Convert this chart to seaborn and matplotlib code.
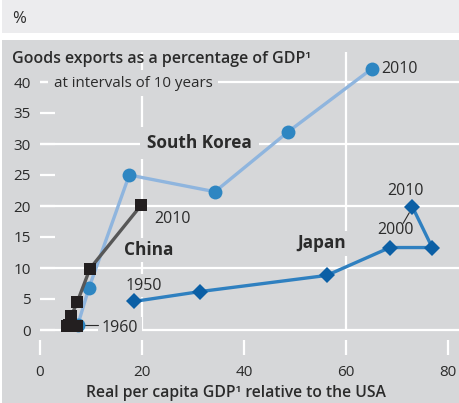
"""Goods exports vs real per capita GDP: South Korea, China, Japan (1950-2010)."""
import matplotlib; matplotlib.use("Agg")
import numpy as np
import pandas as pd
import matplotlib.pyplot as plt
import seaborn as sns
from matplotlib.patches import Rectangle

W, H, DPI = 459, 403, 100
PANEL = "#d6d7d9"
BAND = "#ececee"
TXT = "#2b2b2b"

# x: real per capita GDP relative to the USA (%), y: goods exports (% of GDP)
korea_x = [7.4, 9.6, 17.5, 34.3, 48.7, 65.0]
korea_y = [0.8, 6.8, 25.0, 22.3, 32.0, 42.1]
china_x = [5.3, 7.2, 5.6, 6.1, 7.3, 9.8, 19.9]
china_y = [0.7, 0.6, 0.8, 2.2, 4.5, 9.9, 20.2]
japan_x = [18.4, 31.4, 56.2, 68.6, 76.9, 73.0]
japan_y = [4.6, 6.2, 8.8, 13.3, 13.3, 19.9]

x_ticks = [0, 20, 40, 60, 80]
y_ticks = [0, 5, 10, 15, 20, 25, 30, 35, 40]
y_grid = [0, 10, 20, 30, 40]
x_grid = [20, 60]


def px(x, y):
    return x / W, 1 - y / H


def main():
    sns.set_style("white")
    plt.rcParams["font.family"] = ["Open Sans", "DejaVu Sans"]

    fig = plt.figure(figsize=(W / DPI, H / DPI), dpi=DPI, facecolor="white")
    fig.patches.append(Rectangle(px(2, 33), 1, 33 / H, transform=fig.transFigure,
                                 facecolor=BAND, edgecolor="none", zorder=-5))
    fig.patches.append(Rectangle(px(2, 403), 1, 363 / H, transform=fig.transFigure,
                                 facecolor=PANEL, edgecolor="none", zorder=-5))
    fig.text(*px(12, 19), "%", fontsize=12, color=TXT, va="center")

    ax = fig.add_axes([40 / W, (H - 355) / H, 419 / W, 303 / H])
    ax.set_facecolor(PANEL)
    ax.set_xlim(0, 419 / 5.1)
    ax.set_ylim(-25 / 6.2, 278 / 6.2)
    for s in ax.spines.values():
        s.set_visible(False)

    for y in y_grid:
        ax.axhline(y, color="white", lw=1.6, zorder=0.5)
    y0 = (0 - ax.get_ylim()[0]) / (ax.get_ylim()[1] - ax.get_ylim()[0])
    for x in x_grid:
        ax.axvline(x, ymin=y0, ymax=1, color="white", lw=1.6, zorder=0.5)

    ax.set_xticks(x_ticks)
    ax.set_yticks(y_ticks)
    ax.tick_params(axis="both", direction="in", length=11, width=1.6, color="white",
                   labelsize=11, labelcolor=TXT, bottom=True, left=True)
    ax.tick_params(axis="y", pad=6.5)
    ax.tick_params(axis="x", pad=7)

    kor = pd.DataFrame({"x": korea_x, "y": korea_y})
    chn = pd.DataFrame({"x": china_x, "y": china_y})
    jpn = pd.DataFrame({"x": japan_x, "y": japan_y})
    sns.lineplot(data=kor, x="x", y="y", sort=False, estimator=None, ax=ax,
                 color="#8fb5de", lw=2.4, marker="o", markersize=10,
                 markerfacecolor="#2e86c2", markeredgewidth=0, zorder=4)
    sns.lineplot(data=chn, x="x", y="y", sort=False, estimator=None, ax=ax,
                 color="#575757", lw=2.4, marker="s", markersize=8.5,
                 markerfacecolor="#231f20", markeredgewidth=0, zorder=5)
    sns.lineplot(data=jpn, x="x", y="y", sort=False, estimator=None, ax=ax,
                 color="#2f80c0", lw=2.4, marker="D", markersize=8,
                 markerfacecolor="#0b5fa5", markeredgewidth=0, zorder=4)
    ax.set_xlabel("")
    ax.set_ylabel("")
    fig.text(*px(236, 393), "Real per capita GDP¹ relative to the USA", fontsize=11.3,
             fontweight="semibold", color=TXT, ha="center", va="center")

    box = dict(facecolor=PANEL, edgecolor="none", pad=2.5)
    lab = dict(color=TXT, va="center", ha="left", zorder=2)
    yr = dict(lab, fontsize=11.5)
    nm = dict(lab, fontsize=12.4, fontweight="bold")
    ax.text(2.75, 39.8, "at intervals of 10 years", fontsize=10.9,
            bbox=dict(box, pad=4), **lab)
    ax.text(21.0, 30.2, "South Korea", bbox=dict(box, pad=5), **nm)
    ax.text(16.5, 12.9, "China", bbox=box, **nm)
    ax.text(50.4, 14.0, "Japan", bbox=box, **nm)
    ax.text(66.9, 42.1, "2010", bbox=box, **yr)
    ax.text(22.4, 17.9, "2010", bbox=box, **yr)
    ax.text(16.7, 7.1, "1950", bbox=box, **yr)
    ax.text(68.0, 22.4, "2010", bbox=box, **yr)
    ax.text(66.1, 16.2, "2000", bbox=box, **yr)
    ax.text(12.1, 0.25, "1960", bbox=box, **yr)
    ax.plot([8.2, 11.4], [0.8, 0.8], color=TXT, lw=0.8, zorder=3)
    ax.plot([71.2, 72.4], [17.2, 18.9], color=TXT, lw=0.8, zorder=6)

    fig.text(*px(12, 59), "Goods exports as a percentage of GDP¹", fontsize=11.5,
             fontweight="semibold", color=TXT, va="center", ha="left")

    fig.savefig("out.png", dpi=DPI, facecolor="white")
    plt.close(fig)


if __name__ == "__main__":
    main()
